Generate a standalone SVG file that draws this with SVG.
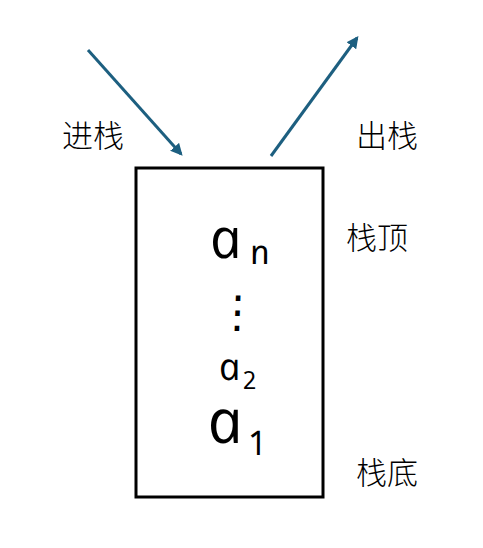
<svg xmlns="http://www.w3.org/2000/svg" width="483" height="548" viewBox="0 0 483 548">
<style>
.lbl{font-family:"Noto Sans CJK SC","Noto Sans CJK TC",sans-serif;font-size:31px;font-weight:300;fill:#000}
.hw{font-family:"Open Sans",sans-serif;font-style:italic;font-weight:400;fill:#000}
.conn{stroke:#1d5f80;stroke-width:3;fill:none}
</style>
<defs>
<marker id="ah" viewBox="0 0 10 10" refX="8" refY="5" markerWidth="4" markerHeight="4" orient="auto" markerUnits="strokeWidth">
<path d="M0,0 L10,5 L0,10 z" fill="#1d5f80"/>
</marker>
</defs>
<rect width="483" height="548" fill="#fff"/>
<g id="connectors">
<line class="conn" x1="88" y1="50" x2="181" y2="154" marker-end="url(#ah)"/>
<line class="conn" x1="271" y1="156" x2="357" y2="38" marker-end="url(#ah)"/>
</g>
<g id="stack">
<rect x="136" y="168" width="187" height="329" fill="none" stroke="#000" stroke-width="3"/>
<g transform="translate(213,258) skewX(12)"><text class="hw" font-size="56">a</text></g>
<g transform="translate(252,264) skewX(12)"><text class="hw" font-size="34">n</text></g>
<g transform="translate(237,327) skewX(12)"><text class="hw" font-size="44" text-anchor="middle">⋮</text></g>
<g transform="translate(221,380) skewX(12)"><text class="hw" font-size="38">a</text></g>
<g transform="translate(244,389) skewX(12)"><text class="hw" font-size="25">2</text></g>
<g transform="translate(211,443) skewX(12)"><text class="hw" font-size="62">a</text></g>
<g transform="translate(250,455) skewX(12)"><text class="hw" font-size="34">1</text></g>
</g>
<g id="push"><text class="lbl" x="62" y="147">进栈</text></g>
<g id="pop"><text class="lbl" x="356" y="147">出栈</text></g>
<g id="top"><text class="lbl" x="346" y="249">栈顶</text></g>
<g id="bottom"><text class="lbl" x="356" y="484">栈底</text></g>
</svg>
